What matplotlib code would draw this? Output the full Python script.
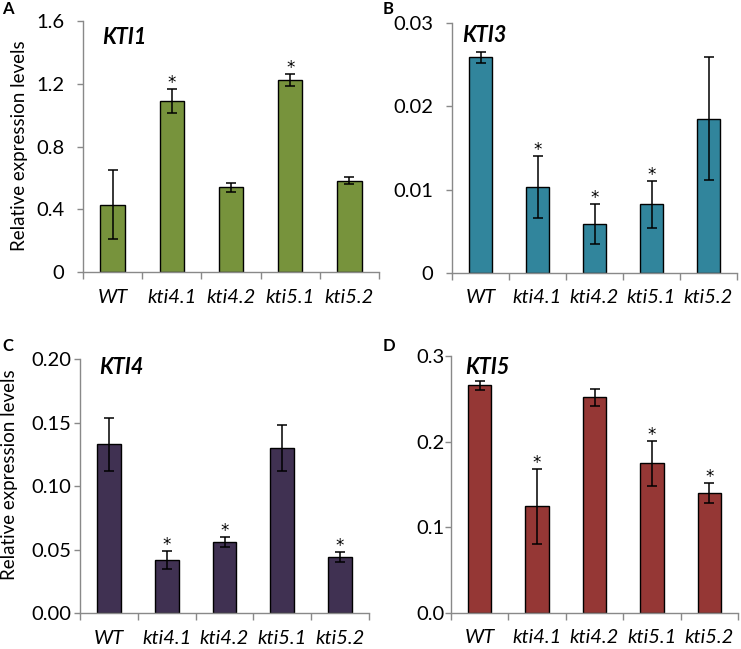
import matplotlib
matplotlib.use("Agg")
import matplotlib.pyplot as plt

plt.rcParams['font.family'] = ['Lato', 'DejaVu Sans']

W, H = 741, 649

categories = ["WT", "kti4.1", "kti4.2", "kti5.1", "kti5.2"]

kti1_vals = [0.43, 1.09, 0.54, 1.224, 0.582]
kti1_err = [0.22, 0.076, 0.03, 0.04, 0.024]
kti1_sig = [False, True, False, True, False]
kti1_ticks = [0, 0.4, 0.8, 1.2, 1.6]
kti1_ticklabels = ["0", "0.4", "0.8", "1.2", "1.6"]

kti3_vals = [0.0259, 0.01028, 0.0059, 0.00823, 0.01853]
kti3_err = [0.0007, 0.0037, 0.0024, 0.0028, 0.0074]
kti3_sig = [False, True, True, True, False]
kti3_ticks = [0, 0.01, 0.02, 0.03]
kti3_ticklabels = ["0", "0.01", "0.02", "0.03"]

kti4_vals = [0.1331, 0.0417, 0.0561, 0.130, 0.0443]
kti4_err = [0.021, 0.007, 0.004, 0.018, 0.0037]
kti4_sig = [False, True, True, False, True]
kti4_ticks = [0, 0.05, 0.10, 0.15, 0.20]
kti4_ticklabels = ["0.00", "0.05", "0.10", "0.15", "0.20"]

kti5_vals = [0.2658, 0.1243, 0.2517, 0.1746, 0.1395]
kti5_err = [0.005, 0.0435, 0.0097, 0.026, 0.0115]
kti5_sig = [False, True, False, True, True]
kti5_ticks = [0, 0.1, 0.2, 0.3]
kti5_ticklabels = ["0.0", "0.1", "0.2", "0.3"]

panels = [
    dict(vals=kti1_vals, err=kti1_err, sig=kti1_sig, ticks=kti1_ticks, tl=kti1_ticklabels,
         color="#77933C", title="KTI1", letter="A", box=(83, 379, 21, 272), ypad=9.5,
         title_xy=(102, 38), letter_xy=(2, 9), ylabel_xy=(20, 146)),
    dict(vals=kti3_vals, err=kti3_err, sig=kti3_sig, ticks=kti3_ticks, tl=kti3_ticklabels,
         color="#31859C", title="KTI3", letter="B", box=(452, 737, 23.3, 272.7), ypad=9.5,
         title_xy=(462, 35), letter_xy=(383, 9), ylabel_xy=None),
    dict(vals=kti4_vals, err=kti4_err, sig=kti4_sig, ticks=kti4_ticks, tl=kti4_ticklabels,
         color="#403152", title="KTI4", letter="C", box=(80, 369, 359.3, 613.3), ypad=2,
         title_xy=(99, 368), letter_xy=(2, 346), ylabel_xy=(10, 475)),
    dict(vals=kti5_vals, err=kti5_err, sig=kti5_sig, ticks=kti5_ticks, tl=kti5_ticklabels,
         color="#953735", title="KTI5", letter="D", box=(451, 738, 356, 612.7), ypad=0.5,
         title_xy=(465, 367), letter_xy=(383, 346), ylabel_xy=None),
]

fig = plt.figure(figsize=(W / 100, H / 100), dpi=100)
gray = "#898989"

for p in panels:
    l, r, t, b = p["box"]
    ax = fig.add_axes([l / W, 1 - b / H, (r - l) / W, (b - t) / H])
    x = list(range(len(categories)))
    ax.bar(x, p["vals"], width=0.41, color=p["color"], edgecolor="black", linewidth=1.0, zorder=2)
    ax.errorbar(x, p["vals"], yerr=p["err"], fmt="none", ecolor="black", elinewidth=1.1,
                capsize=3.6, capthick=1.1, zorder=3)
    for xi, v, e, s in zip(x, p["vals"], p["err"], p["sig"]):
        if s:
            ax.annotate("*", (xi, v + e), xytext=(0, 0.8), textcoords="offset points",
                        ha="center", va="baseline", fontsize=12, color="black",
                        family="DejaVu Sans")
    ax.set_xlim(-0.5, len(categories) - 0.5)
    ax.set_ylim(p["ticks"][0], p["ticks"][-1])
    ax.set_yticks(p["ticks"])
    ax.set_yticklabels(p["tl"], fontsize=14.5)
    ax.set_xticks(x)
    ax.set_xticklabels(categories, fontsize=14.5, style="italic")
    ax.set_xticks([i - 0.5 for i in range(len(categories) + 1)], minor=True)
    ax.tick_params(axis="x", which="major", length=0, pad=12)
    ax.tick_params(axis="x", which="minor", length=5, color=gray, width=1)
    ax.tick_params(axis="y", which="major", length=4, color=gray, width=1, pad=p["ypad"])
    for side in ["top", "right"]:
        ax.spines[side].set_visible(False)
    for side in ["left", "bottom"]:
        ax.spines[side].set_color(gray)
        ax.spines[side].set_linewidth(1)
    ax.set_facecolor("none")
    tx, ty = p["title_xy"]
    fig.text(tx / W, 1 - ty / H, p["title"], fontsize=15.5, fontweight="bold", style="italic",
             ha="left", va="center")
    lx, ly = p["letter_xy"]
    fig.text(lx / W, 1 - ly / H, p["letter"], fontsize=12, fontweight="bold", ha="left", va="center")
    if p["ylabel_xy"] is not None:
        yx, yy = p["ylabel_xy"]
        fig.text(yx / W, 1 - yy / H, "Relative expression levels", fontsize=13.5, rotation=90,
                 ha="center", va="center")

fig.savefig("out.png", dpi=100)
